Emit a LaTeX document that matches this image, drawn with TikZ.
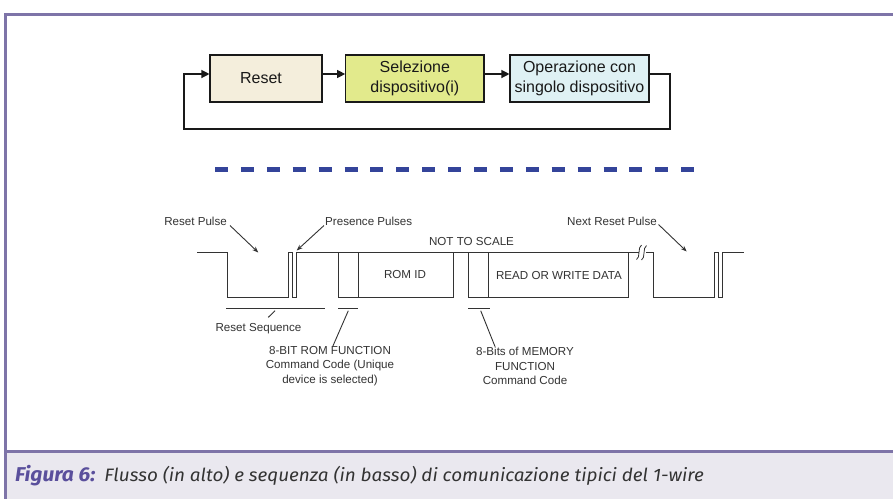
\documentclass[tikz,border=0pt]{standalone}
\usepackage{fontspec}
\setmainfont{Liberation Sans}
\newfontfamily\capfont[FakeStretch=1.05]{Fira Sans}
\usetikzlibrary{arrows.meta,calc}
\definecolor{framec}{HTML}{7E74A8}
\definecolor{capbg}{HTML}{EAE8EF}
\definecolor{capblue}{HTML}{5A4F9C}
\definecolor{captext}{HTML}{333333}
\definecolor{resetfill}{HTML}{F4EEDC}
\definecolor{selfill}{HTML}{E2EA8C}
\definecolor{opfill}{HTML}{DFF1F4}
\definecolor{dashc}{HTML}{34449A}
\definecolor{wavec}{HTML}{333333}
\tikzset{
  flowbox/.style={draw=black!90, line width=1.1, inner sep=0, align=center,
    text=black!90, font=\fontsize{16}{20.5}\selectfont, minimum height=47},
  flowarrow/.style={draw=black!90, line width=1.2, -{Triangle[length=8,width=8]}},
  dashline/.style={draw=dashc, line width=5, dash pattern=on 13 off 12.9},
  wave/.style={draw=wavec, line width=0.9},
  tlabel/.style={inner sep=0, text=wavec, align=center, font=\fontsize{11.6}{14.2}\selectfont},
  leader/.style={draw=wavec, line width=0.9},
  leadarrow/.style={draw=wavec, line width=0.9, -{Stealth[length=6,width=4.5]}}
}
\begin{document}
\begin{tikzpicture}[x=1pt,y=-1pt]
\useasboundingbox (0,0) rectangle (893,499);
\fill[white] (0,0) rectangle (893,499);
% frame and caption band
\fill[capbg] (5,452) rectangle (893,499);
\draw[framec, line width=3] (4,14.5) -- (893,14.5);
\draw[framec, line width=3] (5,451.5) -- (893,451.5);
\draw[framec, line width=2.5] (5.5,13) -- (5.5,499);
\node[anchor=base west, inner sep=0] (caption) at (15,481.5)
  {\capfont\color{capblue}\fontsize{20}{20}\selectfont\bfseries\itshape Figura 6:\hspace{9pt}%
   \color{captext}\mdseries\fontsize{18}{18}\selectfont Flusso (in alto) e sequenza (in basso) di comunicazione tipici del 1-wire};

% flow chart
\node[flowbox, fill=resetfill, minimum width=112] (reset) at (266,78.5) {Reset\hspace*{10pt}};
\node[flowbox, fill=selfill, minimum width=138.3] (sel) at (414.85,78.5) {Selezione\\dispositivo(i)};
\node[flowbox, fill=opfill, minimum width=139] (op) at (579.5,78.5) {Operazione con\\singolo dispositivo};
\coordinate (ay) at (0,74);
\coordinate (lp1) at (670,74);
\coordinate (lp2) at (670,129);
\coordinate (lp3) at (184,129);
\coordinate (lp4) at (184,74);
\draw[flowarrow] (reset.east |- ay) -- (sel.west |- ay);
\draw[flowarrow] (sel.east |- ay) -- (op.west |- ay);
\draw[flowarrow] (op.east |- ay) -- (lp1) -- (lp2) -- (lp3) -- (lp4) -- (reset.west |- ay);

% dashed separator
\coordinate (d1) at (215,169);
\coordinate (d2) at (694.5,169);
\draw[dashline] (d1) -- (d2);

% waveform
\draw[wave, line join=miter] (197,252) -- (227,252) -- (227,297) -- (288.3,297) -- (288.3,252)
  -- (292.3,252) -- (292.3,297) -- (296.7,297) -- (296.7,252) -- (639,252);
\draw[wave, line join=miter] (646,252) -- (653,252) -- (653,297) -- (714,297) -- (714,252)
  -- (718.3,252) -- (718.3,297) -- (722.7,297) -- (722.7,252) -- (744,252);
\draw[wave] (338.3,252) -- (338.3,297) -- (453.3,297) -- (453.3,252);
\draw[wave] (358.3,252) -- (358.3,297);
\draw[wave] (468.3,252) -- (468.3,297) -- (628.3,297) -- (628.3,252);
\draw[wave] (488.3,252) -- (488.3,297);
% break marks
\draw[wave, line width=0.8] (636.5,259.5) .. controls (640.5,258) and (637.5,247) .. (641.5,245);
\draw[wave, line width=0.8] (641.5,260) .. controls (645.5,258.5) and (642.5,247.5) .. (646.5,245.5);

% labels
\node[tlabel] (nts) at (471.5,241.5) {NOT TO SCALE};
\node[tlabel] (romid) at (405,274.5) {ROM ID};
\node[tlabel] (rwd) at (559,275) {READ OR WRITE DATA};
\node[tlabel, anchor=east] (rp) at (227,221.5) {Reset Pulse};
\node[tlabel, anchor=west] (pp) at (325,221) {Presence Pulses};
\node[tlabel, anchor=east] (nrp) at (657,221) {Next Reset Pulse};
\coordinate (rpt) at (258.3,252.5);
\coordinate (ppt) at (296.7,250.5);
\coordinate (nrpt) at (686.7,251.5);
\draw[leadarrow] ($(rp.east)+(3,4)$) -- (rpt);
\draw[leadarrow] ($(pp.west)+(-1,4.5)$) -- (ppt);
\draw[leadarrow] ($(nrp.east)+(1.5,3.5)$) -- (nrpt);

% bottom annotations
\coordinate (b1a) at (226,308.3); \coordinate (b1b) at (325,308.3);
\coordinate (b2a) at (338.3,308.3); \coordinate (b2b) at (358.3,308.3);
\coordinate (b3a) at (468.3,308.3); \coordinate (b3b) at (490,308.3);
\draw[leader] (b1a) -- (b1b);
\draw[leader] (b2a) -- (b2b);
\draw[leader] (b3a) -- (b3b);
\node[tlabel] (rs) at (258.5,328.5) {Reset Sequence};
\node[tlabel] (rom) at (330,366) {8-BIT ROM FUNCTION\\Command Code (Unique\\device is selected)};
\node[tlabel] (mem) at (525,366) {8-Bits of MEMORY\\FUNCTION\\Command Code};
\coordinate (l1) at (275,310.7);
\coordinate (l1e) at (268.3,317.3);
\coordinate (l2) at (348.3,310.7);
\coordinate (l2e) at (332.7,346.5);
\coordinate (l3) at (480.7,310.7);
\coordinate (l3e) at (495,346.5);
\draw[leader] (l1) -- (l1e);
\draw[leader] (l2) -- (l2e);
\draw[leader] (l3) -- (l3e);
\end{tikzpicture}
\end{document}
